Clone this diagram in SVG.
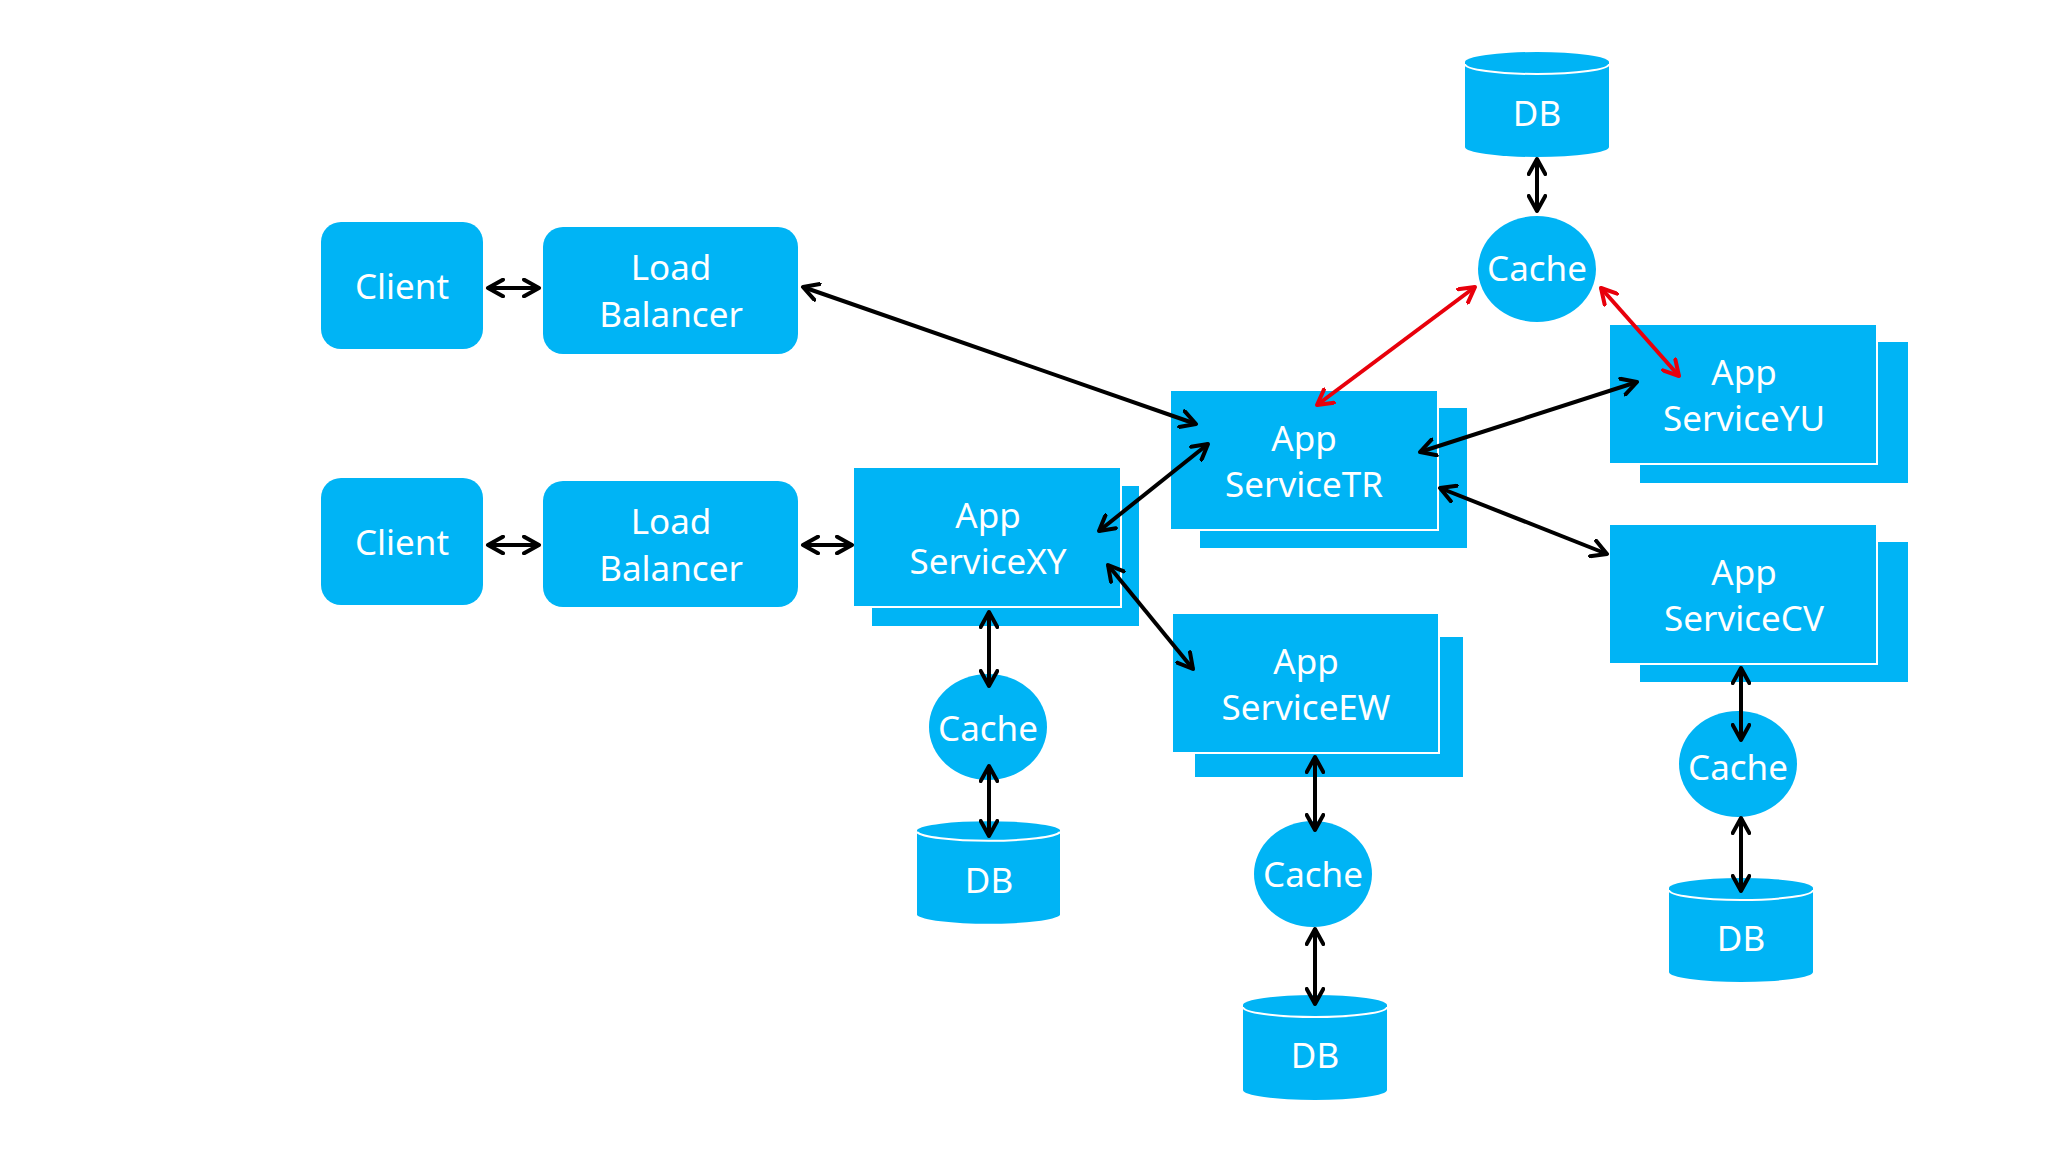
<svg xmlns="http://www.w3.org/2000/svg" width="2048" height="1152" viewBox="0 0 2048 1152">
<defs>
<style>
.n{fill:#00b4f5}
.f{fill:#00b4f5;stroke:#fff;stroke-width:2}
.t{fill:#fff;font-family:"Noto Sans","Open Sans",sans-serif;font-size:35px;text-anchor:middle;dominant-baseline:central}
.c line{stroke:#000;stroke-width:4;marker-start:url(#a);marker-end:url(#a)}
.c line.r{stroke:#e8000b;marker-start:url(#ar);marker-end:url(#ar)}
</style>
<marker id="a" viewBox="0 0 12 12" refX="10" refY="6" markerWidth="5" markerHeight="5" orient="auto-start-reverse"><path d="M1 1L10 6L1 11" fill="none" stroke="#000" stroke-width="2.4" stroke-linecap="round" stroke-linejoin="round"/></marker>
<marker id="ar" viewBox="0 0 12 12" refX="10" refY="6" markerWidth="5" markerHeight="5" orient="auto-start-reverse"><path d="M1 1L10 6L1 11" fill="none" stroke="#e8000b" stroke-width="2.4" stroke-linecap="round" stroke-linejoin="round"/></marker>
</defs>
<rect width="2048" height="1152" fill="#fff"/>
<g id="client1"><rect class="n" x="321" y="222" width="162" height="127" rx="20"/><text class="t" x="402" y="285">Client</text></g>
<g id="client2"><rect class="n" x="321" y="478" width="162" height="127" rx="20"/><text class="t" x="402" y="541">Client</text></g>
<g id="lb1"><rect class="n" x="543" y="227" width="255" height="127" rx="20"/><text class="t" x="671" y="266">Load</text><text class="t" x="671" y="313">Balancer</text></g>
<g id="lb2"><rect class="n" x="543" y="481" width="255" height="126" rx="20"/><text class="t" x="671" y="520">Load</text><text class="t" x="671" y="567">Balancer</text></g>
<g id="xy"><rect class="n" x="872" y="486" width="267" height="140"/><rect class="f" x="853" y="467" width="268" height="140"/><text class="t" x="988" y="514">App</text><text class="t" x="988" y="560">ServiceXY</text></g>
<g id="tr"><rect class="n" x="1200" y="408" width="267" height="140"/><rect class="f" x="1170" y="390" width="268" height="140"/><text class="t" x="1304" y="437">App</text><text class="t" x="1304" y="483">ServiceTR</text></g>
<g id="yu"><rect class="n" x="1640" y="342" width="268" height="141"/><rect class="f" x="1609" y="324" width="268" height="140"/><text class="t" x="1744" y="371">App</text><text class="t" x="1744" y="417">ServiceYU</text></g>
<g id="cv"><rect class="n" x="1640" y="542" width="268" height="140"/><rect class="f" x="1609" y="524" width="268" height="140"/><text class="t" x="1744" y="571">App</text><text class="t" x="1744" y="617">ServiceCV</text></g>
<g id="ew"><rect class="n" x="1195" y="637" width="268" height="140"/><rect class="f" x="1172" y="613" width="267" height="140"/><text class="t" x="1306" y="660">App</text><text class="t" x="1306" y="706">ServiceEW</text></g>
<g id="cache-top"><ellipse class="n" cx="1537" cy="269" rx="59" ry="53"/><text class="t" x="1537" y="267">Cache</text></g>
<g id="cache-xy"><ellipse class="n" cx="988" cy="727" rx="59" ry="53"/><text class="t" x="988" y="727">Cache</text></g>
<g id="cache-ew"><ellipse class="n" cx="1313" cy="874" rx="59" ry="53"/><text class="t" x="1313" y="873">Cache</text></g>
<g id="cache-cv"><ellipse class="n" cx="1738" cy="764" rx="59" ry="53"/><text class="t" x="1738" y="766">Cache</text></g>
<g id="db-top"><path class="n" d="M1465 62A72 10 0 0 1 1609 62V147A72 10 0 0 1 1465 147Z"/><path d="M1465 64A72 10 0 0 0 1609 64" fill="none" stroke="#fff" stroke-width="2"/><text class="t" x="1537" y="112">DB</text></g>
<g id="db-xy"><path class="n" d="M917 830A72 10 0 0 1 1060 830V915A72 10 0 0 1 917 915Z"/><path d="M917 832A72 10 0 0 0 1060 832" fill="none" stroke="#fff" stroke-width="2"/><text class="t" x="989" y="879">DB</text></g>
<g id="db-ew"><path class="n" d="M1243 1005A72 10 0 0 1 1387 1005V1090A72 10 0 0 1 1243 1090Z"/><path d="M1243 1007A72 10 0 0 0 1387 1007" fill="none" stroke="#fff" stroke-width="2"/><text class="t" x="1315" y="1054">DB</text></g>
<g id="db-cv"><path class="n" d="M1669 888A72 10 0 0 1 1813 888V972A72 10 0 0 1 1669 972Z"/><path d="M1669 890A72 10 0 0 0 1813 890" fill="none" stroke="#fff" stroke-width="2"/><text class="t" x="1741" y="937">DB</text></g>
<g id="connectors" class="c">
<line x1="488" y1="288" x2="539" y2="288"/>
<line x1="488" y1="545" x2="539" y2="545"/>
<line x1="803" y1="545" x2="852" y2="545"/>
<line x1="803" y1="287" x2="1196" y2="424"/>
<line x1="1099" y1="531" x2="1208" y2="444"/>
<line x1="1108" y1="565" x2="1193" y2="669"/>
<line x1="1420" y1="452" x2="1637" y2="382"/>
<line x1="1440" y1="488" x2="1607" y2="554"/>
<line class="r" x1="1475" y1="287" x2="1317" y2="405"/>
<line class="r" x1="1601" y1="288" x2="1679" y2="376"/>
<line x1="1537" y1="159" x2="1537" y2="211"/>
<line x1="989" y1="612" x2="989" y2="686"/>
<line x1="989" y1="766" x2="989" y2="836"/>
<line x1="1315" y1="757" x2="1315" y2="830"/>
<line x1="1315" y1="929" x2="1315" y2="1004"/>
<line x1="1741" y1="668" x2="1741" y2="740"/>
<line x1="1741" y1="818" x2="1741" y2="891"/>
</g>
</svg>
